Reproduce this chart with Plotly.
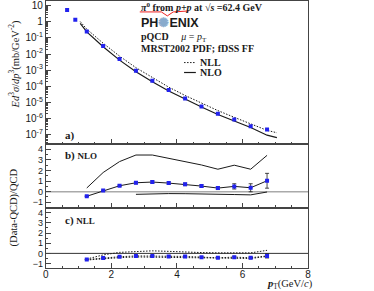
import plotly.graph_objects as go

# ---------------- data ----------------
pt = [0.65, 0.9, 1.25, 1.75, 2.25, 2.75, 3.25, 3.75, 4.25, 4.75, 5.25, 5.75, 6.25, 6.75]
xsec = [5.4, 1.35, 0.25, 0.032, 0.0049, 9.1e-4, 2.2e-4, 5.8e-5, 1.7e-5, 5.4e-6,
        1.9e-6, 8.3e-7, 3.2e-7, 2.0e-7]

pt_curve = [1.05, 1.25, 1.75, 2.25, 2.75, 3.25, 3.75, 4.25, 4.75, 5.25, 5.75, 6.25, 6.75, 7.05]
nll_curve = [1.05, 0.355, 0.0468, 0.00741, 0.00141, 3.39e-4, 8.7e-5, 2.63e-5, 8.5e-6,
             3.02e-6, 1.15e-6, 4.68e-7, 1.78e-7, 1.26e-7]
nlo_curve = [0.81, 0.24, 0.0282, 0.00417, 7.9e-4, 1.86e-4, 5.0e-5, 1.51e-5, 5.0e-6,
             1.74e-6, 6.6e-7, 2.69e-7, 8.9e-8, 6.3e-8]

pt_ratio = [1.25, 1.75, 2.25, 2.75, 3.25, 3.75, 4.25, 4.75, 5.25, 5.75, 6.25, 6.75]
ratio_nlo = [-0.43, 0.10, 0.56, 0.84, 0.91, 0.81, 0.69, 0.53, 0.34, 0.50, 0.37, 1.03]
ratio_nlo_err = [0.03, 0.04, 0.06, 0.10, 0.11, 0.11, 0.12, 0.12, 0.14, 0.25, 0.38, 0.70]
nlo_upper = [0.35, 1.81, 2.84, 3.46, 3.46, 3.15, 2.90, 2.52, 2.12, 2.50, 2.12, 3.43]
pt_nlo_lower = [2.75, 3.25, 3.75, 4.25, 4.75, 5.25, 5.75, 6.25, 6.75]
nlo_lower = [-0.25, -0.20, -0.18, -0.19, -0.23, -0.30, -0.27, -0.30, -0.03]

ratio_nll = [-0.60, -0.45, -0.33, -0.25, -0.25, -0.30, -0.30, -0.37, -0.43, -0.37, -0.43, -0.25]
ratio_nll_err = [0.02, 0.02, 0.03, 0.04, 0.04, 0.05, 0.05, 0.05, 0.06, 0.08, 0.10, 0.20]
nll_upper = [-0.55, -0.15, 0.10, 0.20, 0.25, 0.20, 0.12, 0.08, 0.05, 0.05, 0.05, 0.30]
nll_lower = [-0.65, -0.50, -0.42, -0.35, -0.37, -0.40, -0.40, -0.45, -0.50, -0.45, -0.50, -0.30]

log_tickvals = [10, 1, 0.1, 1e-2, 1e-3, 1e-4, 1e-5, 1e-6, 1e-7]
log_ticktext = ["10", "1", "10<sup>-1</sup>", "10<sup>-2</sup>", "10<sup>-3</sup>",
                "10<sup>-4</sup>", "10<sup>-5</sup>", "10<sup>-6</sup>", "10<sup>-7</sup>"]
ratio_ticks = [-1, 0, 1, 2, 3, 4]
x_ticks = [0, 2, 4, 6, 8]

# ---------------- styling ----------------
W, H = 374, 291
BLUE = "#2222ee"
INK = "#1a1a1a"
FRAME = "#444444"
SERIF = "Liberation Serif"
SANS = "Liberation Sans"
DOT = "1.5px,1.5px"

def px(x):
    return x / W

def py(y):
    return 1 - y / H

fig = go.Figure()

# panel a
fig.add_trace(go.Scatter(x=pt_curve, y=nll_curve, mode="lines",
                         line=dict(color=INK, width=1, dash=DOT), xaxis="x", yaxis="y"))
fig.add_trace(go.Scatter(x=pt_curve, y=nlo_curve, mode="lines",
                         line=dict(color=INK, width=1.2), xaxis="x", yaxis="y"))
fig.add_trace(go.Scatter(x=pt, y=xsec, mode="markers",
                         marker=dict(color=BLUE, size=4, symbol="square"), xaxis="x", yaxis="y"))

# panel b
fig.add_trace(go.Scatter(x=pt_ratio, y=nlo_upper, mode="lines",
                         line=dict(color=INK, width=1), xaxis="x2", yaxis="y2"))
fig.add_trace(go.Scatter(x=pt_nlo_lower, y=nlo_lower, mode="lines",
                         line=dict(color=INK, width=1), xaxis="x2", yaxis="y2"))
fig.add_trace(go.Scatter(x=pt_ratio, y=ratio_nlo, mode="lines+markers",
                         line=dict(color=INK, width=1),
                         marker=dict(color=BLUE, size=4, symbol="square"),
                         error_y=dict(type="data", array=ratio_nlo_err, color=INK,
                                      thickness=0.8, width=2),
                         xaxis="x2", yaxis="y2"))

# panel c
fig.add_trace(go.Scatter(x=pt_ratio, y=nll_upper, mode="lines",
                         line=dict(color=INK, width=1, dash=DOT), xaxis="x3", yaxis="y3"))
fig.add_trace(go.Scatter(x=pt_ratio, y=nll_lower, mode="lines",
                         line=dict(color=INK, width=1, dash=DOT), xaxis="x3", yaxis="y3"))
fig.add_trace(go.Scatter(x=pt_ratio, y=ratio_nll, mode="lines+markers",
                         line=dict(color=INK, width=1, dash=DOT),
                         marker=dict(color=BLUE, size=4, symbol="square"),
                         error_y=dict(type="data", array=ratio_nll_err, color=INK,
                                      thickness=0.8, width=2),
                         xaxis="x3", yaxis="y3"))

x_dom = [px(43.5), px(310)]
a_dom = [py(144), py(0)]
b_dom = [py(208), py(144)]
c_dom = [py(269), py(208)]

def xaxis_common(anchor, labels):
    return dict(domain=x_dom, anchor=anchor, range=[0, 8],
                tickvals=x_ticks, showticklabels=labels, ticklabelstandoff=-3,
                ticks="inside", ticklen=5, tickwidth=1, tickcolor=FRAME,
                minor=dict(dtick=0.5, tick0=0, ticks="inside", ticklen=2.5, tickcolor=FRAME),
                showline=True, linecolor=FRAME, linewidth=1, mirror=True,
                showgrid=False, zeroline=False,
                tickfont=dict(family=SANS, size=10, color=INK))

def yratio(anchor, dom, rng):
    return dict(domain=dom, anchor=anchor, range=rng, tickvals=ratio_ticks,
                ticks="inside", ticklen=5, tickwidth=1, tickcolor=FRAME,
                minor=dict(dtick=0.5, tick0=0, ticks="inside", ticklen=2.5, tickcolor=FRAME),
                showline=True, linecolor=FRAME, linewidth=1, mirror=True,
                showgrid=False, zeroline=False,
                tickfont=dict(family=SANS, size=9, color=INK))

minor_log = [m * 10.0 ** e for e in range(-8, 2) for m in range(2, 10)]

fig.update_layout(
    width=W, height=H,
    margin=dict(l=0, r=0, t=0, b=0),
    paper_bgcolor="white", plot_bgcolor="white",
    showlegend=False,
    xaxis=xaxis_common("y", False),
    xaxis2=xaxis_common("y2", False),
    xaxis3=xaxis_common("y3", True),
    yaxis=dict(domain=a_dom, anchor="x", type="log", range=[-7.6, 1.3],
               tickvals=log_tickvals, ticktext=log_ticktext,
               ticks="inside", ticklen=5, tickwidth=1, tickcolor=FRAME,
               minor=dict(tickmode="array", tickvals=minor_log, ticks="inside",
                          ticklen=2.5, tickcolor=FRAME),
               showline=True, linecolor=FRAME, linewidth=1, mirror=True,
               showgrid=False, zeroline=False,
               tickfont=dict(family=SANS, size=10, color=INK)),
    yaxis2=yratio("x2", b_dom, [-1.5, 4.5]),
    yaxis3=yratio("x3", c_dom, [-1.45, 4.5]),
)

# zero lines
fig.add_shape(type="line", xref="x2", yref="y2", x0=0, x1=8, y0=0, y1=0,
              line=dict(color="#aaaaaa", width=1.5), layer="below")
fig.add_shape(type="line", xref="x3", yref="y3", x0=0, x1=8, y0=0, y1=0,
              line=dict(color="#333333", width=1), layer="below")

def note(x, y, text, size, family=SERIF, anchor="left", color=INK, angle=0):
    fig.add_annotation(x=px(x), y=py(y), xref="paper", yref="paper", text=text,
                       showarrow=False, xanchor=anchor, yanchor="middle", textangle=angle,
                       font=dict(family=family, size=size, color=color))

note(138, 6, "<b><i>π</i><sup>0</sup> from <i>p+p</i> at <i>√s</i> =62.4 GeV</b>", 10)
fig.add_shape(type="path", xref="paper", yref="paper",
              path=f"M {px(139)} {py(11)} L {px(161)} {py(11)} L {px(167)} {py(15)} "
                   f"L {px(173)} {py(11)} L {px(189)} {py(10)}",
              line=dict(color="#ee2222", width=1))
note(138, 22, "<b>PH<span style='color:#88aacc'>✺</span>ENIX</b>", 12.5, family=SANS)
note(138, 37, "<b>pQCD</b>     <i>μ</i> = <i>p</i><sub>T</sub>", 10)
note(138, 48, "<b>MRST2002 PDF; fDSS FF</b>", 10)
fig.add_shape(type="line", xref="paper", yref="paper", x0=px(184), x1=px(196),
              y0=py(62), y1=py(62), line=dict(color=INK, width=1, dash=DOT))
fig.add_shape(type="line", xref="paper", yref="paper", x0=px(184), x1=px(196),
              y0=py(72), y1=py(72), line=dict(color=INK, width=1.2))
note(198, 62, "<b>NLL</b>", 10)
note(198, 72, "<b>NLO</b>", 10)

note(61, 135, "<b>a)</b>", 11)
note(61, 156, "<b>b)</b> <b><span style='font-size:9px'>NLO</span></b>", 11)
note(61, 221, "<b>c)</b> <b><span style='font-size:9px'>NLL</span></b>", 11)

note(11, 64, "<i>Ed</i><sup>3</sup><i>σ</i>/<i>dp</i><sup>3</sup>(mb/GeV<sup>-2</sup>)", 10.5,
     anchor="center", angle=-90)
note(11, 208, "(Data-QCD)/QCD", 10.5, anchor="center", angle=-90)
note(317, 285.5, "<b><i>p</i></b><sub>T</sub>(GeV/<i>c</i>)", 10.5, anchor="right")

fig.write_html("out.html", config={"displayModeBar": False},
               post_script="document.body.style.margin='0';")
